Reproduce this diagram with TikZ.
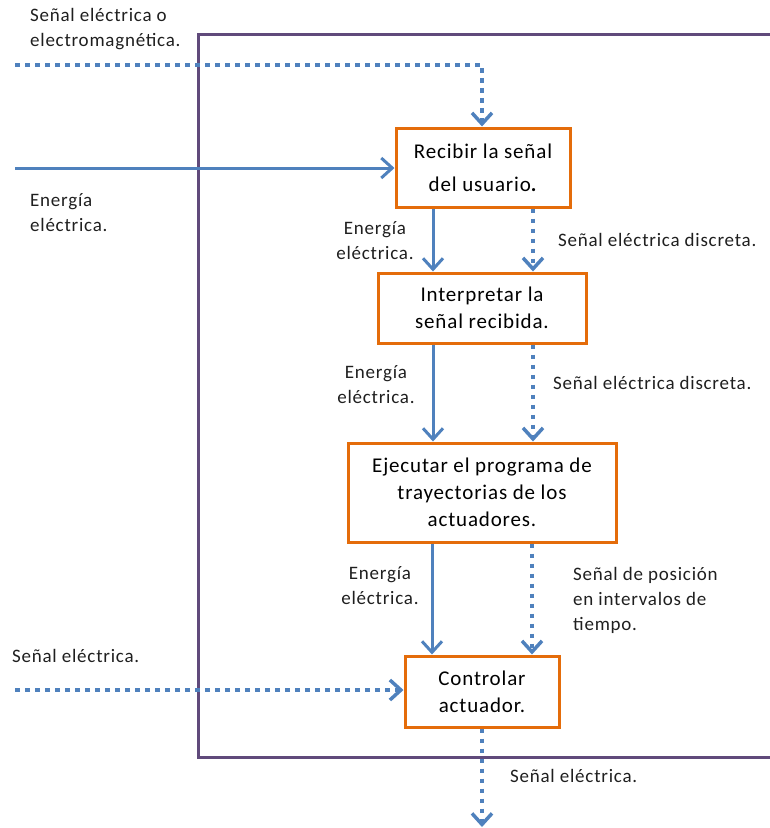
\documentclass[tikz,border=0pt]{standalone}
\usepackage{fontspec}
\setmainfont{Carlito}[LetterSpace=4]
\usetikzlibrary{arrows.meta}
\definecolor{ablue}{RGB}{79,129,189}
\definecolor{aorange}{RGB}{228,108,10}
\definecolor{apurple}{RGB}{96,74,123}
\begin{document}
\begin{tikzpicture}[x=1pt,y=-1pt,
  proc/.style={draw=aorange, line width=3pt, fill=white, align=center,
    font=\fontsize{21}{27}\selectfont, inner sep=0pt},
  flow/.style={draw=ablue, line width=3pt, -{Straight Barb[length=11pt,width=20pt]}},
  sig/.style={flow, line width=3.5pt, dash pattern=on 4.5pt off 5.5pt},
  lbl/.style={font=\fontsize{19}{25}\selectfont, inner sep=0pt, text=black!88},
  frame/.style={draw=apurple, line width=3pt},
]
\useasboundingbox (0,0) rectangle (770,828);
% system frame
\coordinate (ftr) at (770,34);
\coordinate (ftl) at (198,34);
\coordinate (fbl) at (198,757);
\coordinate (fbr) at (770,757);
\draw[frame] (ftr) -- (ftl) -- (fbl) -- (fbr);

% processes
\node[proc, minimum width=174pt, minimum height=79pt] (b1) at (483,167.5)
  {Recibir la señal\\[6pt]del usuario\textbf{.}};
\node[proc, minimum width=208pt, minimum height=70pt] (b2) at (482,308)
  {Interpretar la\\señal recibida.};
\node[proc, minimum width=268pt, minimum height=99pt] (b3) at (482,492.5)
  {Ejecutar el programa de\\trayectorias de los\\actuadores.};
\node[proc, minimum width=154pt, minimum height=71pt] (b4) at (482,691.5)
  {Controlar\\actuador.};

% inputs
\coordinate (s0) at (15,65);
\coordinate (s1) at (482,65);
\draw[sig] (s0) -- (s1) -- (s1 |- b1.north);
\coordinate (e0) at (15,168);
\draw[flow] (e0) -- (e0 -| b1.west);
\coordinate (c0) at (15,690);
\draw[sig] (c0) -- (c0 -| b4.west);
\coordinate (out) at (482,827);
\draw[sig] (b4.south) -- (out);

% internal flows
\draw[flow] ([xshift=-50pt]b1.south) -- ([xshift=-50pt]b1.south |- b2.north);
\draw[sig]  ([xshift=50pt]b1.south) -- ([xshift=50pt]b1.south |- b2.north);
\draw[flow] ([xshift=-49pt]b2.south) -- ([xshift=-49pt]b2.south |- b3.north);
\draw[sig]  ([xshift=51pt]b2.south) -- ([xshift=51pt]b2.south |- b3.north);
\draw[flow] ([xshift=-50pt]b3.south) -- ([xshift=-50pt]b3.south |- b4.north);
\draw[sig]  ([xshift=50pt]b3.south) -- ([xshift=50pt]b3.south |- b4.north);

% labels
\node[lbl, align=left, anchor=west] (l1) at (30,29.5) {Señal eléctrica o\\electromagnética.};
\node[lbl, align=left, anchor=west] (l2) at (30,212.5) {Energía\\eléctrica.};
\node[lbl, align=center] (l3) at (375,240.5) {Energía\\eléctrica.};
\node[lbl, align=left, anchor=west] (l4) at (558,240) {Señal eléctrica discreta.};
\node[lbl, align=center] (l5) at (376,384.5) {Energía\\eléctrica.};
\node[lbl, align=left, anchor=west] (l6) at (553,383) {Señal eléctrica discreta.};
\node[lbl, align=center] (l7) at (380,585.5) {Energía\\eléctrica.};
\node[lbl, align=left, anchor=west] (l8) at (573,600.5) {Señal de posición\\en intervalos de\\tiempo.};
\node[lbl, align=left, anchor=west] (l9) at (12,656) {Señal eléctrica.};
\node[lbl, align=left, anchor=west] (l10) at (510,776) {Señal eléctrica.};
\end{tikzpicture}
\end{document}
